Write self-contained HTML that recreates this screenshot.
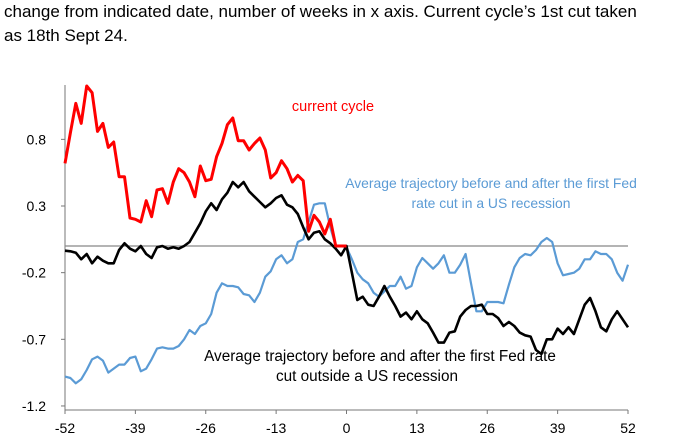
<!DOCTYPE html>
<html><head><meta charset="utf-8"><style>
body{margin:0;background:#fff;font-family:"Liberation Sans",sans-serif;}
#wrap{position:relative;width:681px;height:443px;overflow:hidden;}
.t{position:absolute;left:4px;font-size:17px;color:#000;white-space:nowrap;}
</style></head><body>
<div id="wrap">
<div class="t" style="top:2px">change from indicated date, number of weeks in x axis. Current cycle’s 1st cut taken</div>
<div class="t" style="top:26px">as 18th Sept 24.</div>
<svg id="chart" width="681" height="443" style="position:absolute;left:0;top:0"></svg>
</div>
<script>
const yTicks=[0.8,0.3,-0.2,-0.7,-1.2];
const xTicks=[-52,-39,-26,-13,0,13,26,39,52];
const currentWeeks=[-52,-51,-50,-49,-48,-47,-46,-45,-44,-43,-42,-41,-40,-39,-38,-37,-36,-35,-34,-33,-32,-31,-30,-29,-28,-27,-26,-25,-24,-23,-22,-21,-20,-19,-18,-17,-16,-15,-14,-13,-12,-11,-10,-9,-8,-7,-6,-5,-4,-3,-2,-1,0];
const currentCycle=[0.62,0.85,1.07,0.92,1.2,1.15,0.86,0.92,0.74,0.78,0.52,0.52,0.21,0.2,0.18,0.34,0.22,0.42,0.43,0.32,0.48,0.58,0.55,0.48,0.37,0.6,0.49,0.5,0.67,0.77,0.91,0.96,0.79,0.79,0.72,0.77,0.81,0.72,0.51,0.55,0.64,0.58,0.48,0.53,0.49,0.11,0.23,0.18,0.09,0.2,0.0,0.0,0.0];
const recessionAvg=[-0.98,-0.99,-1.03,-1.0,-0.93,-0.85,-0.83,-0.86,-0.95,-0.92,-0.89,-0.89,-0.84,-0.83,-0.94,-0.92,-0.85,-0.77,-0.76,-0.77,-0.77,-0.75,-0.7,-0.63,-0.66,-0.6,-0.58,-0.51,-0.35,-0.28,-0.3,-0.3,-0.31,-0.36,-0.37,-0.42,-0.35,-0.23,-0.19,-0.1,-0.07,-0.13,-0.1,0.03,0.05,0.18,0.31,0.32,0.32,0.14,0.0,0.0,-0.01,
-0.1,-0.2,-0.25,-0.28,-0.35,-0.38,-0.34,-0.3,-0.3,-0.23,-0.32,-0.3,-0.16,-0.09,-0.13,-0.17,-0.13,-0.07,-0.2,-0.2,-0.14,-0.06,-0.28,-0.49,-0.49,-0.42,-0.42,-0.42,-0.43,-0.29,-0.16,-0.09,-0.06,-0.07,-0.03,0.03,0.06,0.03,-0.13,-0.22,-0.21,-0.2,-0.17,-0.1,-0.1,-0.04,-0.06,-0.06,-0.1,-0.2,-0.26,-0.14];
const nonRecessionAvg=[-0.035,-0.04,-0.05,-0.1,-0.06,-0.13,-0.08,-0.11,-0.13,-0.13,-0.03,0.02,-0.02,-0.04,0.0,-0.06,-0.09,-0.01,0.0,-0.02,-0.01,-0.02,0.0,0.03,0.1,0.17,0.26,0.32,0.27,0.35,0.4,0.48,0.44,0.48,0.41,0.37,0.33,0.29,0.32,0.36,0.38,0.31,0.29,0.24,0.14,0.05,0.1,0.11,0.05,0.02,-0.02,-0.07,0.0,
-0.2,-0.405,-0.38,-0.44,-0.45,-0.38,-0.3,-0.38,-0.45,-0.53,-0.5,-0.55,-0.49,-0.55,-0.58,-0.65,-0.725,-0.725,-0.65,-0.64,-0.53,-0.48,-0.45,-0.45,-0.44,-0.51,-0.51,-0.54,-0.6,-0.57,-0.6,-0.65,-0.67,-0.68,-0.78,-0.81,-0.7,-0.7,-0.62,-0.66,-0.61,-0.66,-0.55,-0.44,-0.39,-0.49,-0.61,-0.64,-0.55,-0.49,-0.55,-0.61];
const allWeeks=[];for(let w=-52;w<=52;w++)allWeeks.push(w);

const NS='http://www.w3.org/2000/svg';
const svg=document.getElementById('chart');
const X0=65,X1=628,Y0=246,PPU=133.3,YTOP=85,YBOT=410;
const xs=w=>X0+(w+52)*(X1-X0)/104;
const ys=v=>Y0-v*PPU;
function mk(tag,attrs,parent){const e=document.createElementNS(NS,tag);for(const k in attrs)e.setAttribute(k,attrs[k]);(parent||svg).appendChild(e);return e;}

let e;
e=mk('line',{x1:X0,y1:YTOP,x2:X0,y2:YBOT,stroke:'#777','stroke-width':1});


e=mk('line',{x1:X0,y1:YBOT,x2:X1,y2:YBOT,stroke:'#777','stroke-width':1});


e=mk('line',{x1:X0,y1:ys(0),x2:X1,y2:ys(0),stroke:'#888','stroke-width':1.3});



yTicks.forEach(v=>{
  const y=ys(v);
  e=mk('line',{x1:X0-4,y1:y,x2:X0,y2:y,stroke:'#777'});
  
  
  e=mk('text',{x:X0-19,y:y+5,'text-anchor':'end','font-size':14,'font-family':'Liberation Sans, sans-serif'});
  e.textContent=String(v);
  
  
});
xTicks.forEach(w=>{
  const x=xs(w);
  e=mk('line',{x1:x,y1:YBOT,x2:x,y2:YBOT+4,stroke:'#777'});
  
  
  e=mk('text',{x:x,y:YBOT+23,'text-anchor':'middle','font-size':14,'font-family':'Liberation Sans, sans-serif'});
  e.textContent=String(w);
  
  
});

function line(weeks,vals,color,wd,name){
  const d=vals.map((v,i)=>(i?'L':'M')+xs(weeks[i]).toFixed(1)+' '+ys(v).toFixed(1)).join(' ');
  const p=mk('path',{d:d,fill:'none',stroke:color,'stroke-width':wd,'stroke-linejoin':'round'});
  
  
}
line(allWeeks,recessionAvg,'#5b9bd5',2.2,'recession-average-line');
line(allWeeks,nonRecessionAvg,'#000',2.6,'non-recession-average-line');
line(currentWeeks,currentCycle,'#ff0000',3,'current-cycle-line');

function label(x,y,txt,color,size,name){
  e=mk('text',{x:x,y:y,'text-anchor':'middle','font-size':size,fill:color,'font-family':'Liberation Sans, sans-serif'});
  e.textContent=txt;
  
  
}
label(333,111,'current cycle','#ff0000',14.5,'current-cycle-label');
label(491,188,'Average trajectory before and after the first Fed','#5b9bd5',13.9,'recession-label-line1');
label(491,208,'rate cut in a US recession','#5b9bd5',13.9,'recession-label-line2');
label(380,361,'Average trajectory before and after the first Fed rate','#000',15.3,'non-recession-label-line1');
label(367,381,'cut outside a US recession','#000',15.3,'non-recession-label-line2');
</script>
</body></html>
